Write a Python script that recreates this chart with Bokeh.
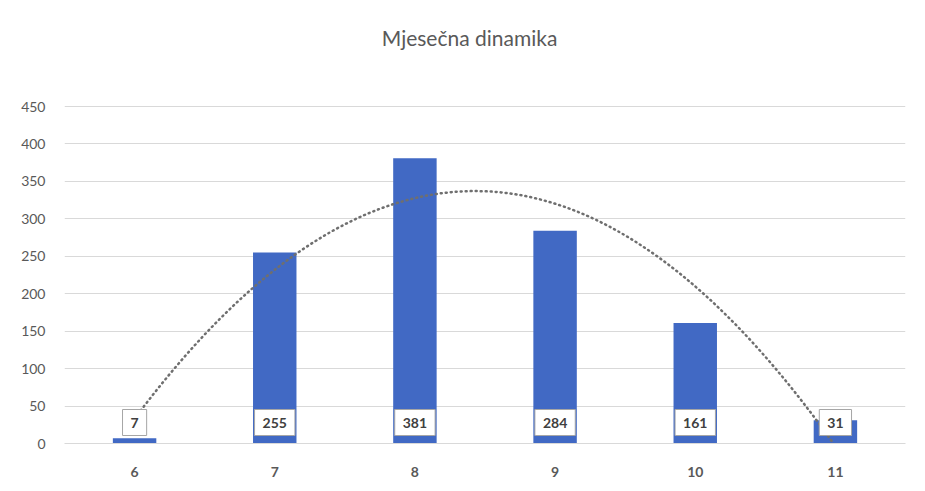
import numpy as np
from bokeh.plotting import figure
from bokeh.models import ColumnDataSource, Range1d, FixedTicker
from bokeh.core.properties import value
from bokeh.embed import file_html
from bokeh.resources import INLINE

# ---- data ----
categories = ["6", "7", "8", "9", "10", "11"]
values = [7, 255, 381, 284, 161, 31]
y_ticks = [0, 50, 100, 150, 200, 250, 300, 350, 400, 450]
title_text = "Mjesečna dinamika"

FONT = "Lato"
GRAY = "#595959"

# layout (pixels): value axis 0..450 spans 337 px; frame extends up to canvas top
FRAME_BOTTOM = 443
PX_PER_450 = 337
Y_TOP = 450 * FRAME_BOTTOM / PX_PER_450

xs = list(range(len(categories)))
src = ColumnDataSource(dict(x=xs, top=values, lbl=[str(v) for v in values],
                            base=[0] * len(values)))

p = figure(width=909, height=483, output_backend="svg", toolbar_location=None,
           x_range=Range1d(-0.5, len(categories) - 0.5), y_range=Range1d(0, Y_TOP),
           min_border_left=64, min_border_right=4, min_border_top=0, min_border_bottom=40)
p.outline_line_color = None
p.background_fill_color = "white"
p.border_fill_color = "white"

p.ygrid.grid_line_color = "#d9d9d9"
p.ygrid.grid_line_width = 1
p.ygrid.ticker = FixedTicker(ticks=y_ticks)
p.xgrid.grid_line_color = None

p.yaxis.ticker = FixedTicker(ticks=y_ticks)
p.yaxis.axis_line_color = None
p.yaxis.major_tick_line_color = None
p.yaxis.minor_tick_line_color = None
p.yaxis.major_label_text_font = FONT
p.yaxis.major_label_text_font_size = "14px"
p.yaxis.major_label_text_color = GRAY
p.yaxis.major_label_standoff = 13

p.xaxis.ticker = FixedTicker(ticks=xs)
p.xaxis.major_label_overrides = {i: c for i, c in enumerate(categories)}
p.xaxis.axis_line_color = "#d9d9d9"
p.xaxis.major_tick_line_color = None
p.xaxis.minor_tick_line_color = None
p.xaxis.major_label_text_font = FONT
p.xaxis.major_label_text_font_size = "14px"
p.xaxis.major_label_text_font_style = "bold"
p.xaxis.major_label_text_color = GRAY
p.xaxis.major_label_standoff = 17

p.vbar(x="x", top="top", width=0.31, bottom=0, source=src,
       fill_color="#4169C4", line_color=None)

# polynomial (order 2) trendline, as Excel does
coef = np.polyfit(np.array(xs, dtype=float), np.array(values, dtype=float), 2)
tx = np.linspace(xs[0], xs[-1], 200)
ty = np.polyval(coef, tx)
p.line(tx, ty, line_color="#6f6f6f", line_width=2.5, line_dash="1 4", line_cap="round")

p.text(x="x", y="base", text="lbl", source=src, y_offset=-21,
       text_align="center", text_baseline="middle",
       text_font=value(FONT), text_font_size="14px", text_font_style="bold",
       text_color="#404040",
       background_fill_color="white", border_line_color="#a6a6a6",
       border_line_width=1, padding=dict(left=8, right=8, top=8, bottom=8))

# chart title, drawn in the empty band above the value axis
title_y = 450 * (FRAME_BOTTOM - 37) / PX_PER_450
p.text(x=[2.39], y=[title_y], text=[title_text], text_align="center", text_baseline="middle",
       text_font=value(FONT), text_font_size="21px", text_color=GRAY)

open("out.html", "w").write(file_html(p, INLINE))
